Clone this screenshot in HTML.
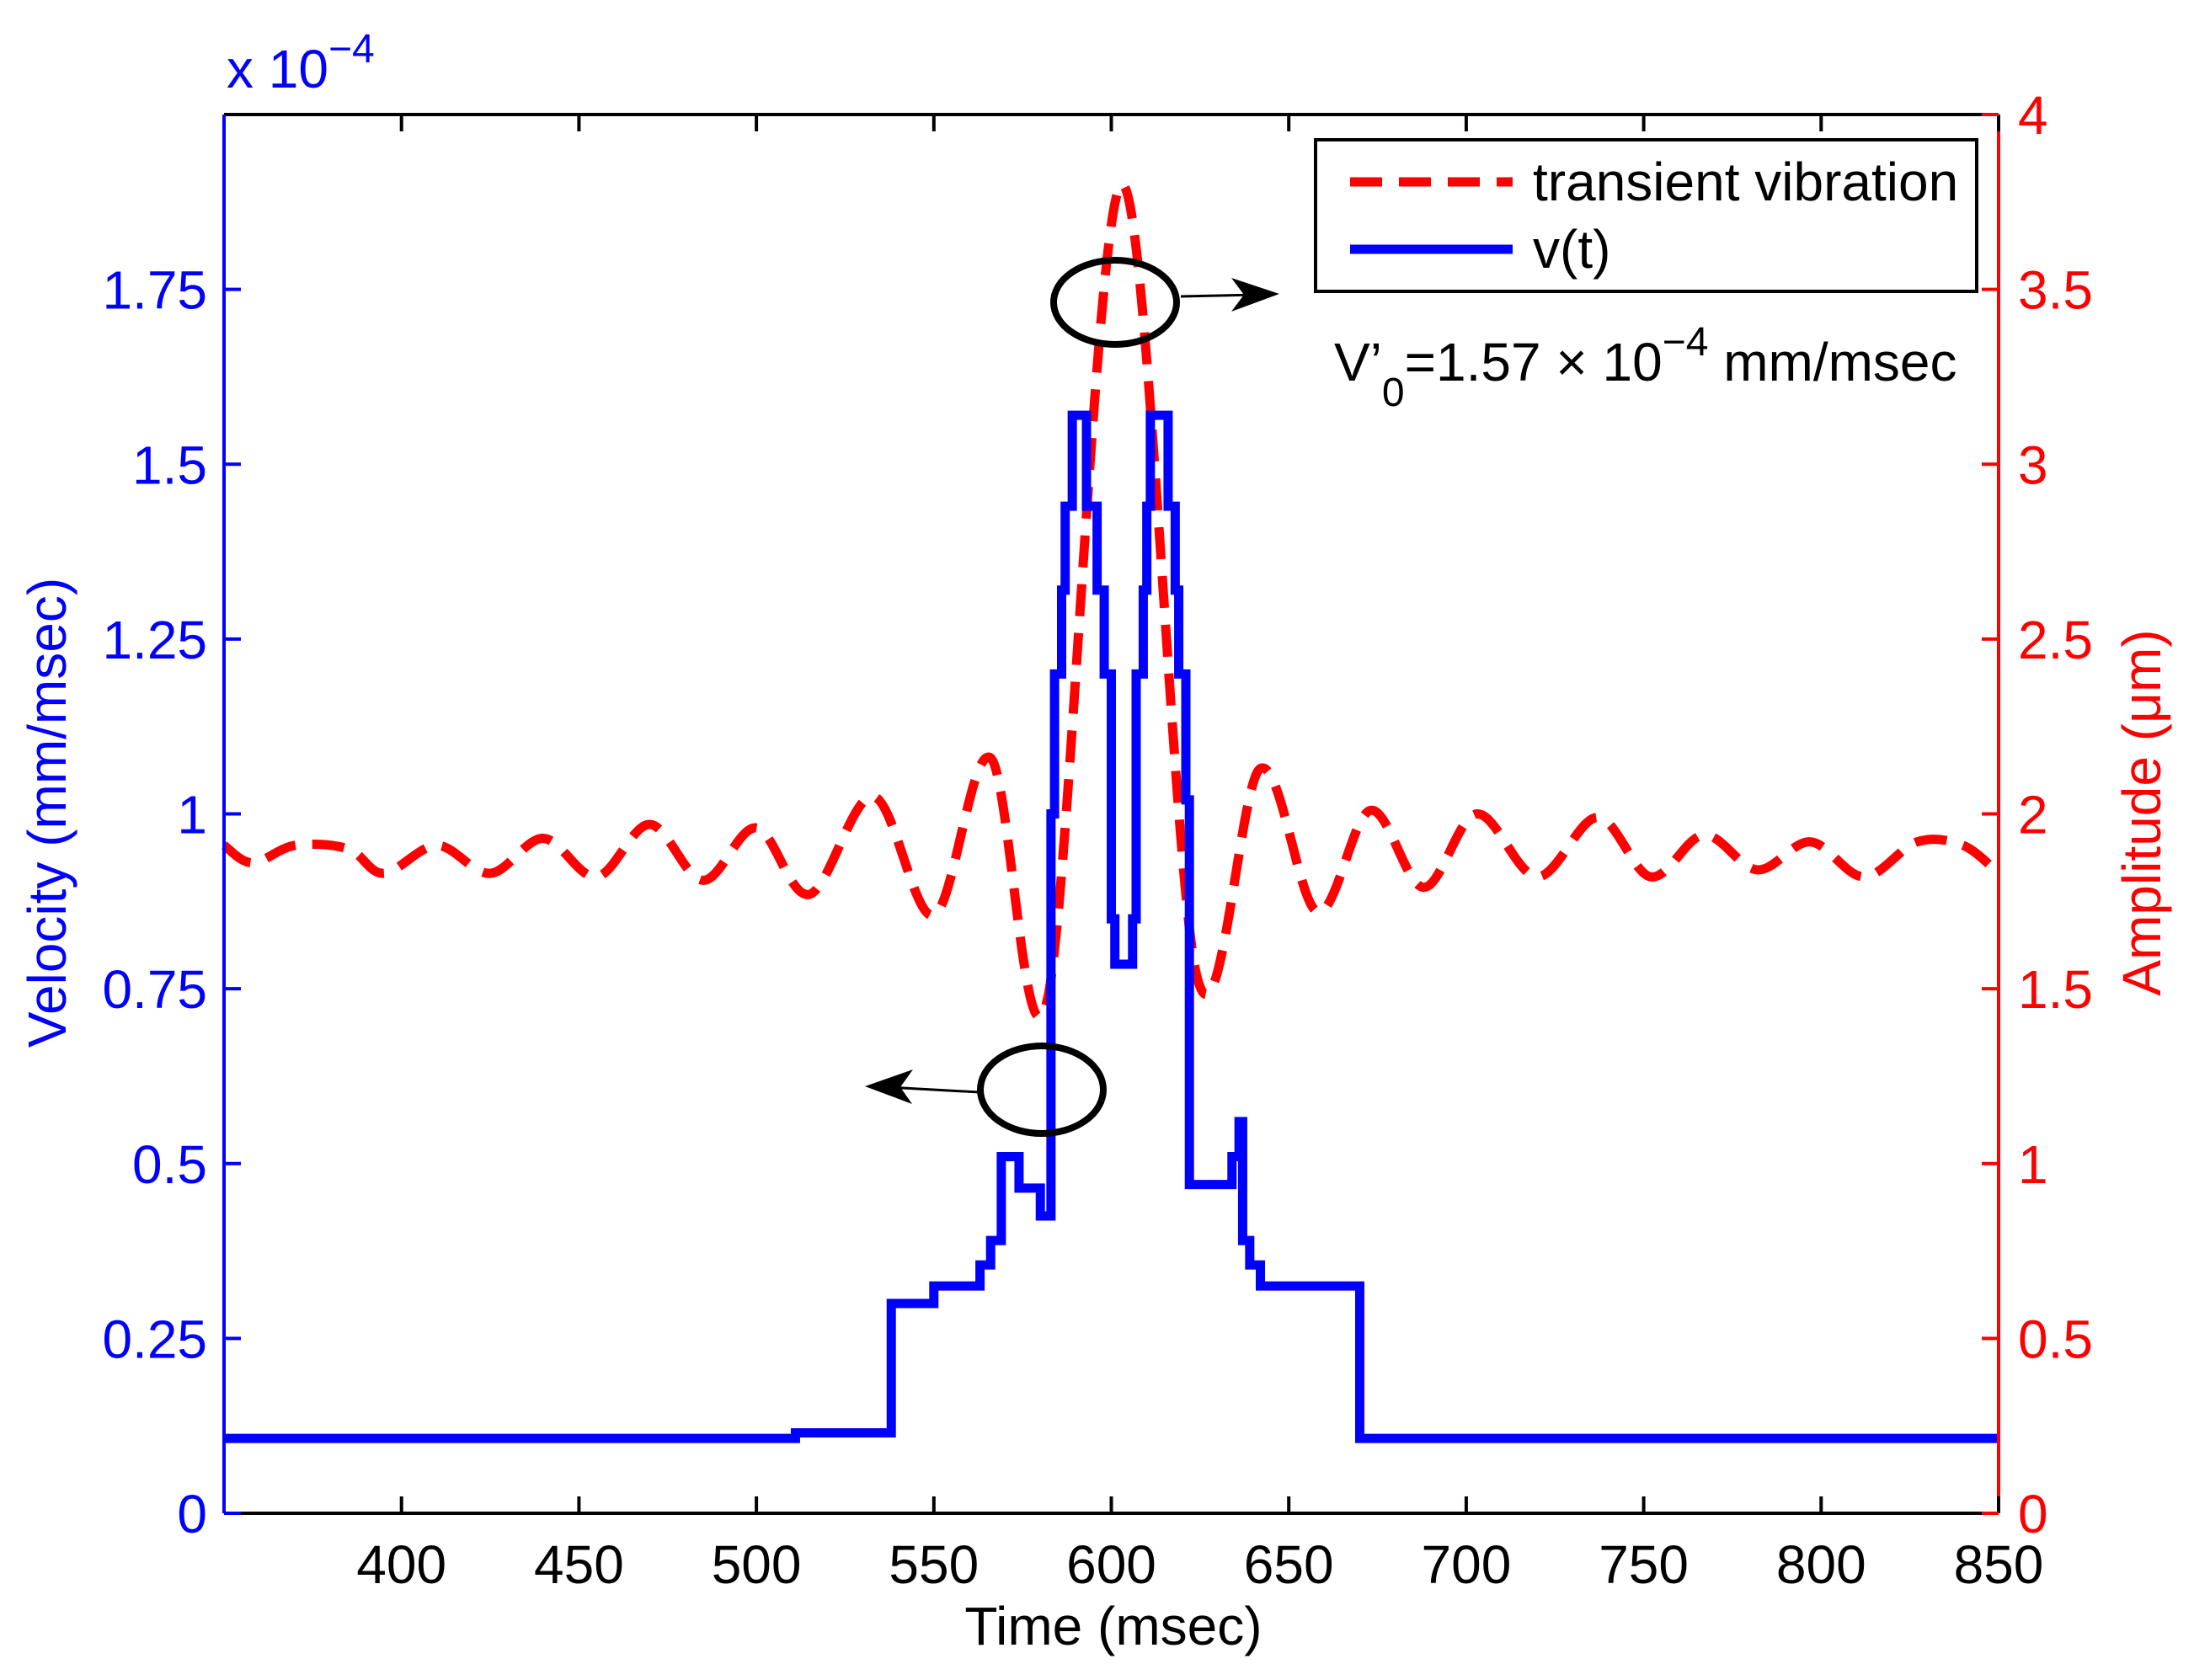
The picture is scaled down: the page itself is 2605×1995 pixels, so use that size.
<!DOCTYPE html>
<html><head><meta charset="utf-8"><style>
html,body{margin:0;padding:0;background:#fff}
svg{display:block}
text{font-family:"Liberation Sans",Arial,sans-serif}
</style></head><body>
<svg id="chart" width="2605" height="1995" viewBox="0 0 2605 1995" xmlns="http://www.w3.org/2000/svg">
<rect width="2605" height="1995" fill="#fff"/>
<g id="marks"></g>
<g id="axes"></g>
<g>
 <rect x="1562" y="166" width="785" height="180" fill="#fff" stroke="#000" stroke-width="4"/>
 <line x1="1603" y1="216" x2="1796" y2="216" stroke="#f00" stroke-width="11" stroke-dasharray="38,20"/>
 <text x="1820" y="238" font-size="64">transient vibration</text>
 <line x1="1603" y1="296" x2="1796" y2="296" stroke="#00f" stroke-width="11"/>
 <text x="1820" y="318" font-size="64">v(t)</text>
</g>
<text x="1584" y="452" font-size="64">V’<tspan font-size="48" dy="30">0</tspan><tspan dy="-30">=1.57 × 10</tspan><tspan font-size="48" dy="-30">−4</tspan><tspan dy="30"> mm/msec</tspan></text>
<g stroke="#000" fill="none">
 <ellipse cx="1324" cy="359" rx="73" ry="50" stroke-width="8"/>
 <line x1="1402" y1="352" x2="1492" y2="350" stroke-width="3"/>
 <polygon points="1519,349 1462,330 1477,350 1462,370" fill="#000" stroke="none"/>
 <ellipse cx="1237" cy="1294" rx="73" ry="52" stroke-width="8"/>
 <line x1="1163" y1="1297" x2="1054" y2="1291" stroke-width="3"/>
 <polygon points="1027,1290 1084,1270 1069,1291 1083,1311" fill="#000" stroke="none"/>
</g>
<text x="269" y="104" font-size="64" fill="#00f">x 10<tspan font-size="48" dy="-30">−4</tspan></text>
<text transform="translate(78,965) rotate(-90)" text-anchor="middle" font-size="64" fill="#00f">Velocity (mm/msec)</text>
<text transform="translate(2565,965) rotate(-90)" text-anchor="middle" font-size="64" fill="#f00">Amplitude (μm)</text>
<text x="1322" y="1953" text-anchor="middle" font-size="64">Time (msec)</text>
</svg>
<script>
const xTicks=[400,450,500,550,600,650,700,750,800,850];
const yLeftTicks=[0,0.25,0.5,0.75,1,1.25,1.5,1.75];
const yLeftLabels=["0","0.25","0.5","0.75","1","1.25","1.5","1.75"];
const yRightTicks=[0,0.5,1,1.5,2,2.5,3,3.5,4];
const yRightLabels=["0","0.5","1","1.5","2","2.5","3","3.5","4"];
const vTimes=[350,511,538,550,563,566,569,574,580,583,584,586,587,589,593,596,598,600,601,606,607,609,610,611,616,618,619,621,622,634,636,637,639,642,670,850];
const vValues=[0.107,0.115,0.30,0.325,0.355,0.39,0.51,0.465,0.425,1.0,1.2,1.32,1.44,1.57,1.44,1.32,1.2,0.85,0.785,0.85,1.2,1.32,1.44,1.57,1.44,1.32,1.2,1.02,0.47,0.51,0.56,0.39,0.355,0.325,0.107,0.107];
const aTimes=[350,358,370,385,395,410,425,440,455,470,485,500,515,533,550,566,582,603,624,642,658,673,688,703,720,737,752,767,782,797,812,827,840,850];
const aValues=[1.91,1.86,1.91,1.90,1.83,1.91,1.83,1.93,1.82,1.97,1.81,1.96,1.77,2.05,1.71,2.16,1.47,3.80,1.54,2.13,1.72,2.01,1.79,2.00,1.82,1.99,1.82,1.94,1.84,1.92,1.82,1.92,1.91,1.83];
const L=266,R=2373,T=136,B=1797;
const xs=t=>L+(t-350)/(850-350)*(R-L);
const yl=v=>B-v/2*(B-T);
const yr=v=>B-v/4*(B-T);
const NS="http://www.w3.org/2000/svg";
const marks=document.getElementById('marks'),axes=document.getElementById('axes');
function mk(tag,attrs,parent){const e=document.createElementNS(NS,tag);for(const k in attrs)e.setAttribute(k,attrs[k]);parent.appendChild(e);return e;}
const pts=aTimes.map((t,i)=>[xs(t),yr(aValues[i])]);
let d="M"+pts[0][0]+","+pts[0][1];
for(let i=0;i<pts.length-1;i++){const p0=pts[Math.max(0,i-1)],p1=pts[i],p2=pts[i+1],p3=pts[Math.min(pts.length-1,i+2)];
d+=" C"+(p1[0]+(p2[0]-p0[0])/6)+","+(p1[1]+(p2[1]-p0[1])/6)+" "+(p2[0]-(p3[0]-p1[0])/6)+","+(p2[1]-(p3[1]-p1[1])/6)+" "+p2[0]+","+p2[1];}
const red=mk('path',{d:d,fill:'none',stroke:'#f00','stroke-width':11,'stroke-dasharray':'38,20'},marks);


let s="M"+xs(vTimes[0])+","+yl(vValues[0]);
for(let i=1;i<vTimes.length;i++){s+=" H"+xs(vTimes[i])+" V"+yl(vValues[i]);}
const blue=mk('path',{d:s,fill:'none',stroke:'#00f','stroke-width':11,'stroke-linejoin':'miter'},marks);


mk('line',{x1:L,y1:T,x2:R,y2:T,stroke:'#000','stroke-width':4},axes);
mk('line',{x1:L,y1:B,x2:R,y2:B,stroke:'#000','stroke-width':4},axes);
const la=mk('line',{x1:L,y1:T,x2:L,y2:B,stroke:'#00f','stroke-width':4},axes);


const ra=mk('line',{x1:R,y1:T,x2:R,y2:B,stroke:'#f00','stroke-width':4},axes);


xTicks.forEach(t=>{const x=xs(t);
mk('line',{x1:x,y1:B,x2:x,y2:B-20,stroke:'#000','stroke-width':4},axes);
mk('line',{x1:x,y1:T,x2:x,y2:T+20,stroke:'#000','stroke-width':4},axes);
const tx=mk('text',{x:x,y:1880,'text-anchor':'middle','font-size':64},axes);tx.textContent=t;

});
yLeftTicks.forEach((v,i)=>{const y=yl(v);
mk('line',{x1:L,y1:y,x2:L+20,y2:y,stroke:'#00f','stroke-width':4},axes);
const tx=mk('text',{x:246,y:y+23,'text-anchor':'end','font-size':64,fill:'#00f'},axes);tx.textContent=yLeftLabels[i];

});
yRightTicks.forEach((v,i)=>{const y=yr(v);
mk('line',{x1:R,y1:y,x2:R-20,y2:y,stroke:'#f00','stroke-width':4},axes);
const tx=mk('text',{x:2396,y:y+23,'font-size':64,fill:'#f00'},axes);tx.textContent=yRightLabels[i];

});
</script>
</body></html>
